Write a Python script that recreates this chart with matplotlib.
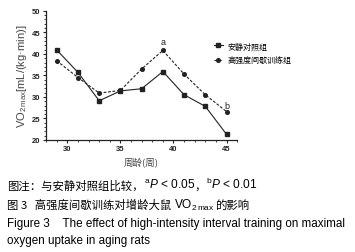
import matplotlib
matplotlib.use("Agg")
import matplotlib.pyplot as plt
from matplotlib.ticker import MultipleLocator

plt.rcParams["font.family"] = ["Liberation Sans", "Noto Sans CJK SC", "DejaVu Sans"]
plt.rcParams["mathtext.fontset"] = "custom"
plt.rcParams["mathtext.rm"] = "Liberation Sans"
plt.rcParams["mathtext.it"] = "Liberation Sans:italic"

weeks = [29, 31, 33, 35, 37, 39, 41, 43, 45]
control = [40.9, 35.7, 29.1, 31.4, 31.9, 35.9, 30.5, 27.8, 21.3]
hiit = [38.4, 34.5, 30.9, 31.5, 36.5, 40.8, 35.3, 30.5, 26.6]
labels = ["安静对照组", "高强度间歇训练组"]
sig_marks = [(39, 42.8, "a"), (45, 28.0, "b")]

CJK = ["Noto Sans CJK SC", "DejaVu Sans"]
INK = "#222222"

fig = plt.figure(figsize=(3.55, 2.53), dpi=100)
ax = fig.add_axes([0.130, 0.443, 0.538, 0.510])

ax.plot(weeks, control, color=INK, lw=0.8, marker="s", ms=2.3, label=labels[0])
ax.plot(weeks, hiit, color=INK, lw=0.8, ls=(0, (2.5, 1.5)), marker="o", ms=2.6,
        label=labels[1])
for x, y, s in sig_marks:
    ax.text(x, y, s, ha="center", va="center", fontsize=6.5, color=INK)

ax.set_xlim(28, 46)
ax.set_ylim(20, 50)
ax.xaxis.set_major_locator(MultipleLocator(5))
ax.xaxis.set_minor_locator(MultipleLocator(1))
ax.yaxis.set_major_locator(MultipleLocator(5))
ax.yaxis.set_minor_locator(MultipleLocator(1))
ax.tick_params(which="major", length=2.5, width=0.8, labelsize=5.5, pad=1.5,
               colors=INK)
ax.tick_params(which="minor", length=1.5, width=0.6, colors=INK)
for lab in ax.get_xticklabels() + ax.get_yticklabels():
    lab.set_fontweight("bold")
for sp in ["top", "right"]:
    ax.spines[sp].set_visible(False)
for sp in ["left", "bottom"]:
    ax.spines[sp].set_linewidth(0.9)
    ax.spines[sp].set_color(INK)

ax.set_xlabel("周龄(周)", family=CJK, fontsize=6.8, labelpad=3, color="#444444")
ax.set_ylabel(r"VO$_{2\,\mathrm{max}}$[mL/(kg·min)]", fontsize=8.0, labelpad=2,
              color="#444444")

leg = ax.legend(loc="upper left", bbox_to_anchor=(0.86, 0.79), frameon=False,
                prop={"family": CJK, "size": 5.8}, handlelength=1.2,
                handletextpad=0.5, labelspacing=0.7, borderaxespad=0)

renderer = fig.canvas.get_renderer()


def run_text(x, y, pieces):
    # draw text pieces one after another on the same line (figure fraction)
    for s, kw in pieces:
        t = fig.text(x, y, s, fontsize=kw.pop("size", 8.2), **kw)
        bb = t.get_window_extent(renderer)
        x += bb.width / fig.bbox.width


run_text(0.02, 0.252, [
    ("图注：与安静对照组比较，", {"family": CJK}),
    (r"$^{\mathrm{a}}\mathit{P}$ < 0.05", {"size": 8.6}),
    ("，", {"family": CJK}),
    (r"$^{\mathrm{b}}\mathit{P}$ < 0.01", {"size": 8.6}),
])
run_text(0.02, 0.174, [
    ("图 3   高强度间歇训练对增龄大鼠 ", {"family": CJK}),
    (r"VO$_{2\,\mathrm{max}}$ ", {"size": 8.6}),
    ("的影响", {"family": CJK}),
])
fig.text(0.02, 0.104, "Figure 3    The effect of high-intensity interval training on maximal",
         fontsize=8.4)
fig.text(0.02, 0.036, "oxygen uptake in aging rats", fontsize=8.4)

fig.savefig("out.png", dpi=100)
